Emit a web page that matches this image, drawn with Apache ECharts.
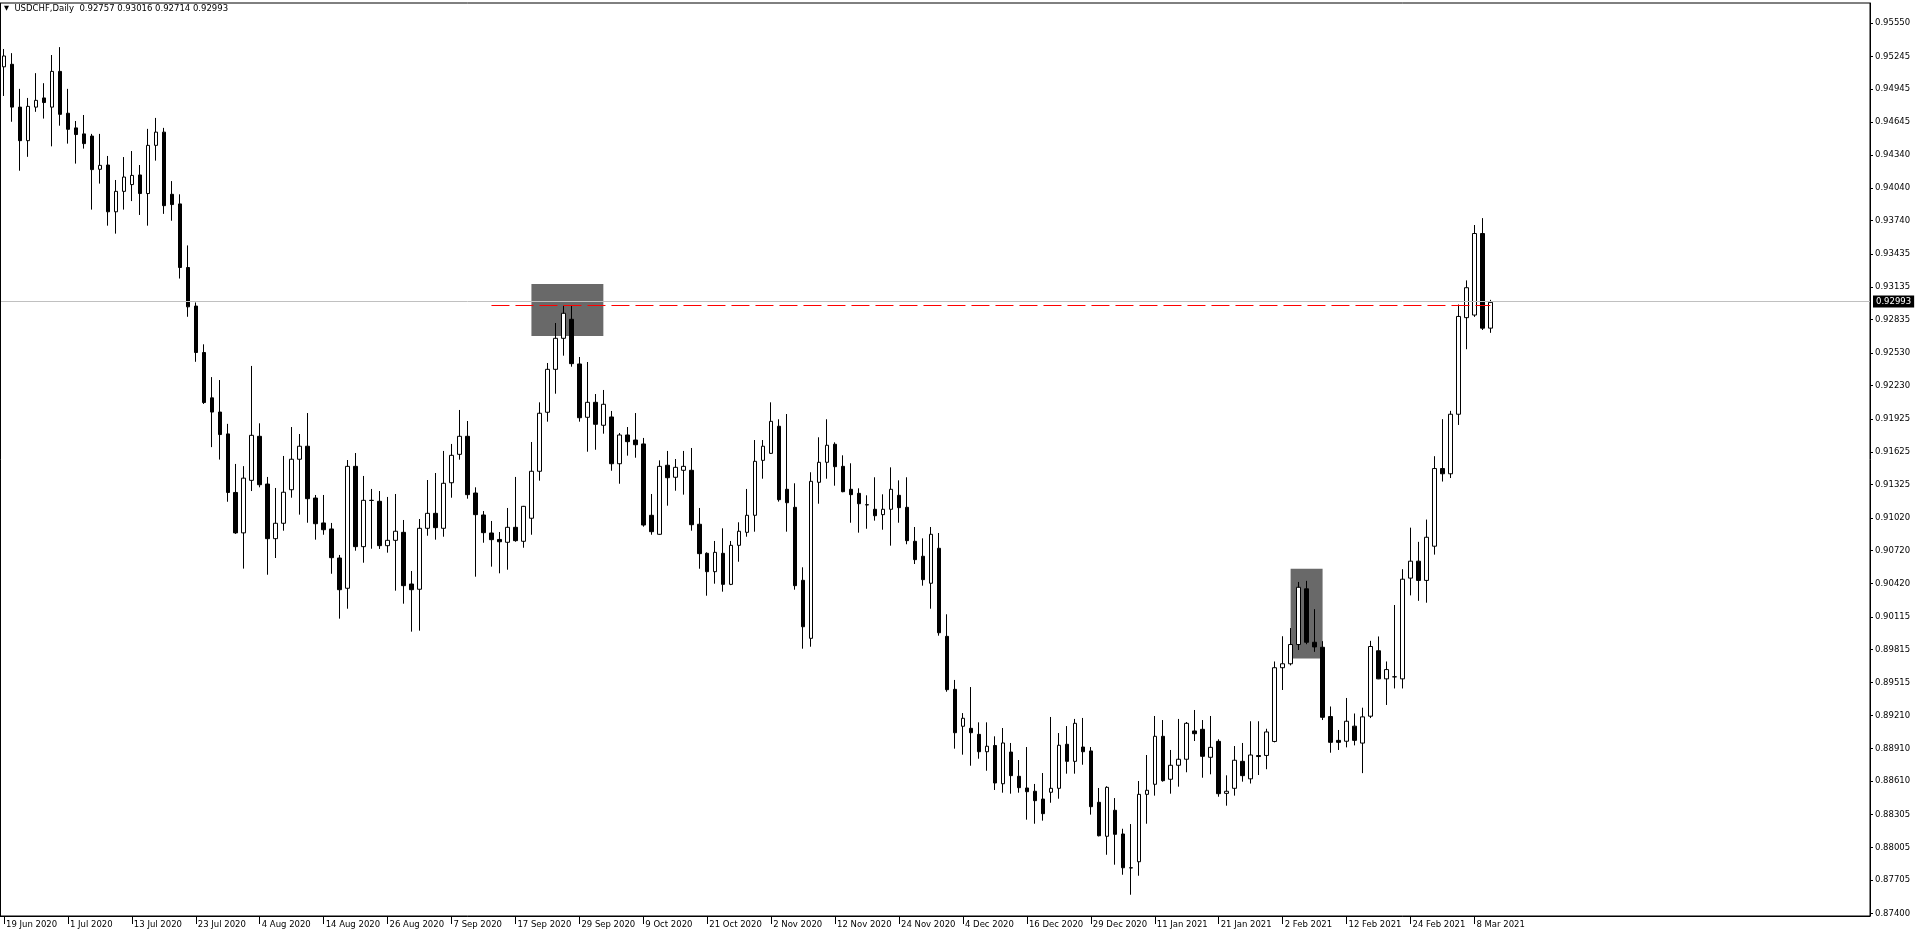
<!DOCTYPE html>
<html>
<head>
<meta charset="utf-8">
<script src="https://cdn.jsdelivr.net/npm/echarts@6/dist/echarts.min.js"></script>
<style>
html,body{margin:0;padding:0;background:#fff;}
#chart{width:1916px;height:937px;}
</style>
</head>
<body>
<div id="chart"></div>
<script>
// ---------------- DATA ----------------
const symbolTitle = 'USDCHF,Daily';
const startDate = '2020-06-19';
const holidays = ['2020-12-25', '2021-01-01'];

const openP = [
0.95149,0.95172,0.94780,0.94473,0.94780,0.94864,0.94780,0.95107,0.94724,0.94590,
0.94535,0.94515,0.94211,0.94250,0.93822,0.94009,0.94071,0.94159,0.93989,0.94430,
0.94551,0.93982,0.93894,0.93312,0.92959,0.92534,0.92119,0.91989,0.91789,0.91253,
0.90883,0.91364,0.91767,0.91330,0.90830,0.90971,0.91278,0.91557,0.91676,0.91202,
0.90974,0.90919,0.90653,0.90376,0.91492,0.90757,0.91181,0.91172,0.90766,0.90815,
0.90888,0.90415,0.90367,0.90925,0.91062,0.90925,0.91342,0.91602,0.91767,0.91248,
0.91047,0.90882,0.90823,0.90797,0.90934,0.90806,0.91017,0.91447,0.91987,0.92380,
0.92664,0.92838,0.92429,0.91941,0.92078,0.91868,0.91944,0.91516,0.91779,0.91733,
0.91697,0.91044,0.90870,0.91502,0.91392,0.91456,0.91456,0.90962,0.90696,0.90528,
0.90696,0.90412,0.90769,0.90888,0.91044,0.91547,0.91611,0.91859,0.91282,0.91117,
0.90449,0.89918,0.91346,0.91529,0.91694,0.91492,0.91282,0.91245,0.91141,0.91099,
0.91050,0.91099,0.91227,0.91117,0.90806,0.90669,0.90422,0.90742,0.89936,0.89451,
0.89113,0.89094,0.89039,0.88880,0.88937,0.88587,0.88877,0.88655,0.88548,0.88518,
0.88447,0.88509,0.88545,0.88948,0.88792,0.88923,0.88887,0.88417,0.88106,0.88344,
0.88127,0.87818,0.87873,0.88490,0.88582,0.89021,0.88628,0.88756,0.88811,0.89070,
0.89085,0.88829,0.88975,0.88499,0.88545,0.88792,0.88632,0.88845,0.88846,0.88974,
0.89649,0.89685,0.89861,0.90371,0.89882,0.89836,0.89202,0.88984,0.88976,0.89114,
0.88959,0.89205,0.89804,0.89547,0.89565,0.89547,0.90469,0.90624,0.90448,0.90761,
0.91472,0.91424,0.91969,0.92853,0.92877,0.93623,0.92757
];
const highP = [
0.95312,0.95274,0.94947,0.94864,0.95091,0.94999,0.95257,0.95329,0.94947,0.94653,
0.94708,0.94535,0.94535,0.94333,0.94113,0.94323,0.94378,0.94250,0.94581,0.94681,
0.94590,0.94103,0.93982,0.93514,0.92992,0.92609,0.92309,0.92282,0.91881,0.91514,
0.91494,0.92411,0.91886,0.91395,0.91294,0.91587,0.91852,0.91788,0.91980,0.91230,
0.91230,0.90974,0.90681,0.91550,0.91614,0.91404,0.91285,0.91266,0.91212,0.91239,
0.91001,0.90534,0.91010,0.91367,0.91431,0.91633,0.91697,0.92008,0.91907,0.91300,
0.91083,0.90992,0.90891,0.91111,0.91395,0.91130,0.91715,0.92078,0.92438,0.92804,
0.92962,0.92962,0.92493,0.92447,0.92154,0.92191,0.91999,0.91797,0.91852,0.91980,
0.91752,0.91239,0.91547,0.91633,0.91559,0.91633,0.91660,0.91111,0.90705,0.90809,
0.90925,0.90809,0.90980,0.91285,0.91733,0.91733,0.92078,0.91923,0.91971,0.91337,
0.90568,0.91438,0.91758,0.91923,0.91712,0.91593,0.91520,0.91291,0.91227,0.91392,
0.91236,0.91483,0.91364,0.91392,0.90937,0.90833,0.90937,0.90882,0.90138,0.89537,
0.89234,0.89472,0.89149,0.89149,0.89021,0.89097,0.88960,0.88804,0.88923,0.88585,
0.88685,0.89198,0.89051,0.89115,0.89180,0.89189,0.88923,0.88548,0.88564,0.88456,
0.88175,0.88218,0.88612,0.88850,0.89207,0.89170,0.88896,0.89180,0.89152,0.89262,
0.89170,0.89207,0.88994,0.88664,0.88932,0.88960,0.89159,0.89159,0.89090,0.89706,
0.89937,0.90012,0.90434,0.90444,0.90185,0.89892,0.89294,0.89079,0.89372,0.89230,
0.89283,0.89895,0.89935,0.89706,0.90223,0.90551,0.90931,0.90801,0.91005,0.91585,
0.91924,0.92000,0.92973,0.93194,0.93701,0.93764,0.93016
];
const lowP = [
0.94882,0.94646,0.94198,0.94325,0.94737,0.94675,0.94421,0.94610,0.94446,0.94263,
0.94400,0.93842,0.94080,0.93695,0.93622,0.93842,0.93920,0.93793,0.93695,0.94290,
0.93803,0.93740,0.93211,0.92861,0.92449,0.92063,0.91668,0.91554,0.91168,0.90874,
0.90556,0.91266,0.91300,0.90500,0.90653,0.90903,0.91205,0.91050,0.90976,0.90821,
0.90866,0.90509,0.90098,0.90189,0.90720,0.90610,0.90738,0.90736,0.90702,0.90354,
0.90235,0.89979,0.89988,0.90857,0.90821,0.90848,0.91205,0.91553,0.91196,0.90482,
0.90793,0.90574,0.90513,0.90546,0.90802,0.90747,0.90866,0.91361,0.91901,0.92157,
0.92505,0.92404,0.91901,0.91626,0.91644,0.91791,0.91452,0.91333,0.91590,0.91571,
0.90940,0.90866,0.90866,0.91132,0.91269,0.91233,0.90903,0.90555,0.90308,0.90418,
0.90345,0.90405,0.90619,0.90848,0.90894,0.91379,0.91605,0.91169,0.90894,0.90363,
0.89823,0.89841,0.91150,0.91379,0.91315,0.91255,0.90976,0.90885,0.90921,0.90995,
0.90912,0.90766,0.90976,0.90779,0.90598,0.90400,0.90189,0.89942,0.89429,0.88908,
0.88853,0.88752,0.88816,0.88706,0.88530,0.88505,0.88496,0.88505,0.88258,0.88221,
0.88249,0.88413,0.88450,0.88679,0.88679,0.88761,0.88304,0.88105,0.87937,0.87846,
0.87754,0.87571,0.87745,0.88221,0.88478,0.88606,0.88496,0.88560,0.88692,0.88978,
0.88642,0.88673,0.88468,0.88386,0.88478,0.88606,0.88589,0.88667,0.88720,0.88966,
0.89445,0.89670,0.89811,0.89864,0.89794,0.89170,0.88871,0.88896,0.88920,0.88938,
0.88684,0.89188,0.89544,0.89308,0.89459,0.89459,0.90311,0.90261,0.90244,0.90684,
0.91353,0.91385,0.91871,0.92564,0.92860,0.92740,0.92714
];
const closeP = [
0.95248,0.94780,0.94473,0.94787,0.94842,0.94822,0.95107,0.94714,0.94577,0.94529,
0.94446,0.94208,0.94247,0.93822,0.94009,0.94140,0.94155,0.93989,0.94430,0.94551,
0.93878,0.93888,0.93312,0.92952,0.92534,0.92076,0.91989,0.91783,0.91253,0.90883,
0.91384,0.91776,0.91324,0.90830,0.90971,0.91255,0.91557,0.91676,0.91196,0.90967,
0.90912,0.90656,0.90363,0.91492,0.90757,0.91181,0.91180,0.90766,0.90815,0.90898,
0.90400,0.90363,0.90925,0.91062,0.90931,0.91337,0.91593,0.91767,0.91233,0.91050,
0.90885,0.90821,0.90802,0.90934,0.90812,0.91126,0.91447,0.91978,0.92380,0.92664,
0.92893,0.92432,0.91937,0.92078,0.91877,0.92060,0.91516,0.91779,0.91718,0.91690,
0.90955,0.90894,0.91492,0.91388,0.91483,0.91492,0.90958,0.90693,0.90528,0.90705,
0.90412,0.90769,0.90898,0.91044,0.91538,0.91676,0.91904,0.91187,0.91159,0.90400,
0.90024,0.91355,0.91529,0.91685,0.91489,0.91260,0.91233,0.91150,0.91139,0.91040,
0.91099,0.91282,0.91114,0.90812,0.90638,0.90455,0.90870,0.89969,0.89448,0.89054,
0.89186,0.89054,0.88880,0.88930,0.88594,0.88960,0.88661,0.88551,0.88514,0.88432,
0.88313,0.88545,0.88939,0.88792,0.89140,0.88880,0.88377,0.88111,0.88554,0.88124,
0.87818,0.87816,0.88490,0.88527,0.89021,0.88615,0.88756,0.88811,0.89140,0.89045,
0.88838,0.88920,0.88496,0.88518,0.88802,0.88661,0.88850,0.88836,0.89061,0.89649,
0.89685,0.89861,0.90385,0.89882,0.89839,0.89195,0.88966,0.88966,0.89159,0.88984,
0.89199,0.89843,0.89547,0.89632,0.89566,0.90459,0.90624,0.90448,0.90843,0.91472,
0.91424,0.91969,0.92864,0.93127,0.93623,0.92757,0.92993
];

// x-axis tick labels (one every 8 bars)
const xTickLabels = ['19 Jun 2020','1 Jul 2020','13 Jul 2020','23 Jul 2020','4 Aug 2020','14 Aug 2020',
  '26 Aug 2020','7 Sep 2020','17 Sep 2020','29 Sep 2020','9 Oct 2020','21 Oct 2020','2 Nov 2020',
  '12 Nov 2020','24 Nov 2020','4 Dec 2020','16 Dec 2020','29 Dec 2020','11 Jan 2021','21 Jan 2021',
  '2 Feb 2021','12 Feb 2021','24 Feb 2021','8 Mar 2021'];
const xTickEvery = 8;

// y-axis tick labels (price scale)
const yTickLabels = ['0.95550','0.95245','0.94945','0.94645','0.94340','0.94040','0.93740','0.93435',
  '0.93135','0.92835','0.92530','0.92230','0.91925','0.91625','0.91325','0.91020','0.90720','0.90420',
  '0.90115','0.89815','0.89515','0.89210','0.88910','0.88610','0.88305','0.88005','0.87705','0.87400'];

// drawn objects: rectangles [startBar, endBar], [topPrice, bottomPrice] and a horizontal level
const rectBars = [[66, 75], [161, 165]];
const rectPrices = [[0.93161, 0.92685], [0.90554, 0.89733]];
const levelPrice = 0.92967;
const levelBars = [61, 186];

// axis extents
const Y_MAX = 0.95733;
const Y_MIN = 0.873764;
const TOTAL_SLOTS = 234;

// ---------------- BUILD ----------------
const FONT = 'Tahoma, "DejaVu Sans", sans-serif';
const FS = 8.5;
const nBars = openP.length;

const cats = [];
(function () {
  const d = new Date(startDate + 'T00:00:00Z');
  const mon = ['Jan','Feb','Mar','Apr','May','Jun','Jul','Aug','Sep','Oct','Nov','Dec'];
  while (cats.length < TOTAL_SLOTS) {
    const wd = d.getUTCDay();
    const iso = d.toISOString().slice(0, 10);
    if (wd !== 0 && wd !== 6 && holidays.indexOf(iso) < 0) {
      cats.push(d.getUTCDate() + ' ' + mon[d.getUTCMonth()] + ' ' + d.getUTCFullYear());
    }
    d.setUTCDate(d.getUTCDate() + 1);
  }
})();

const candleData = openP.map((o, i) => [o, closeP[i], lowP[i], highP[i]]);
const last = nBars - 1;
const lastClose = closeP[last];
const headerValues = [openP[last], highP[last], lowP[last], closeP[last]].map(v => v.toFixed(5)).join(' ');

const showTick = (idx) => idx % xTickEvery === 0 && idx / xTickEvery < xTickLabels.length;

const chart = echarts.init(document.getElementById('chart'), null, { renderer: 'canvas' });
chart.setOption({
  animation: false,
  backgroundColor: '#ffffff',
  title: {
    text: '{tri|\u25BC}  ' + symbolTitle + '  ' + headerValues,
    left: 4, top: 4,
    padding: 0,
    textStyle: {
      fontSize: FS, fontWeight: 'normal', color: '#000', fontFamily: FONT,
      rich: { tri: { fontSize: 6.5, color: '#000', fontFamily: FONT } }
    }
  },
  graphic: [{
    type: 'line', silent: true, z: 10,
    shape: { x1: 0.5, y1: 3, x2: 0.5, y2: 916 },
    style: { stroke: '#000', lineWidth: 1 }
  }],
  grid: {
    left: -1, right: 46, top: 3, bottom: 21,
    show: true, borderColor: '#000', borderWidth: 1, backgroundColor: 'transparent'
  },
  xAxis: {
    type: 'category',
    data: cats,
    boundaryGap: true,
    axisLine: { show: true, lineStyle: { color: '#000', width: 1 } },
    axisTick: { show: true, alignWithLabel: true, length: 8, interval: showTick,
      lineStyle: { color: '#000' } },
    axisLabel: {
      interval: showTick,
      formatter: (v, idx) => showTick(idx) ? xTickLabels[idx / xTickEvery] : '',
      align: 'left', margin: 4, padding: [0, 0, 0, 2],
      color: '#000', fontSize: FS, fontFamily: FONT
    },
    splitLine: { show: false }
  },
  yAxis: {
    type: 'value',
    position: 'right',
    min: Y_MIN, max: Y_MAX,
    scale: true,
    axisLine: { show: true, lineStyle: { color: '#000', width: 1 } },
    axisTick: { show: true, length: 3, customValues: yTickLabels.map(Number),
      lineStyle: { color: '#000' } },
    axisLabel: {
      customValues: yTickLabels.map(Number),
      formatter: v => v.toFixed(5),
      margin: 5, color: '#000', fontSize: FS, fontFamily: FONT
    },
    splitLine: { show: false }
  },
  series: [
    {
      name: 'objects', type: 'line', data: [], z: 1, silent: true,
      markArea: {
        silent: true,
        itemStyle: { color: '#696969', opacity: 1, borderWidth: 0 },
        label: { show: false },
        data: rectBars.map((b, k) => [
          { coord: [b[0], rectPrices[k][0]] },
          { coord: [b[1], rectPrices[k][1]] }
        ])
      }
    },
    {
      name: 'bid', type: 'line', data: [], z: 1, silent: true,
      markLine: {
        silent: true, symbol: ['none', 'none'],
        lineStyle: { color: '#c0c0c0', width: 1, type: 'solid' },
        label: {
          show: true, position: 'end', distance: 3,
          formatter: () => lastClose.toFixed(5),
          backgroundColor: '#000', color: '#fff', padding: [2, 3, 1, 3],
          fontSize: FS, fontFamily: FONT
        },
        data: [{ yAxis: lastClose }]
      }
    },
    {
      name: 'USDCHF', type: 'candlestick', z: 2,
      data: candleData,
      barWidth: 4,
      silent: true,
      itemStyle: {
        color: '#ffffff', color0: '#000000',
        borderColor: '#000000', borderColor0: '#000000', borderWidth: 1
      }
    },
    {
      name: 'level', type: 'line', data: [], z: 3, silent: true,
      markLine: {
        silent: true, symbol: ['none', 'none'],
        lineStyle: { color: '#ff0000', width: 1, type: [18, 6] },
        label: { show: false },
        data: [[{ coord: [levelBars[0], levelPrice] }, { coord: [levelBars[1], levelPrice] }]]
      }
    }
  ]
});
</script>
</body>
</html>
